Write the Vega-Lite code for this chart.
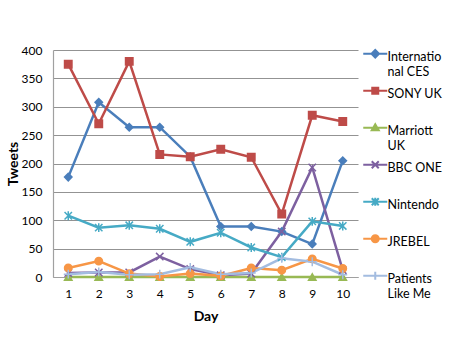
{
  "$schema": "https://vega.github.io/schema/vega-lite/v6.json",
  "width": 305,
  "height": 227,
  "autosize": {"type": "none"},
  "padding": {"left": 53, "top": 50, "right": 99, "bottom": 69},
  "background": "white",
  "config": {
    "view": {"stroke": null},
    "font": "Lato",
    "axis": {"labelFont": "Lato", "titleFont": "Lato", "labelColor": "#000", "titleColor": "#000", "labelFontSize": 12, "titleFontSize": 14, "titleFontWeight": "bold", "ticks": false, "domainColor": "#a0a0a0", "gridColor": "#939393", "domainWidth": 1.2, "gridWidth": 1}
  },
  "data": {
    "values": [
      {"day": 1, "series": "International CES", "tweets": 176},
      {"day": 2, "series": "International CES", "tweets": 308},
      {"day": 3, "series": "International CES", "tweets": 264},
      {"day": 4, "series": "International CES", "tweets": 264},
      {"day": 5, "series": "International CES", "tweets": 212},
      {"day": 6, "series": "International CES", "tweets": 89},
      {"day": 7, "series": "International CES", "tweets": 89},
      {"day": 8, "series": "International CES", "tweets": 80},
      {"day": 9, "series": "International CES", "tweets": 58},
      {"day": 10, "series": "International CES", "tweets": 205},
      {"day": 1, "series": "SONY UK", "tweets": 375},
      {"day": 2, "series": "SONY UK", "tweets": 270},
      {"day": 3, "series": "SONY UK", "tweets": 380},
      {"day": 4, "series": "SONY UK", "tweets": 216},
      {"day": 5, "series": "SONY UK", "tweets": 212},
      {"day": 6, "series": "SONY UK", "tweets": 225},
      {"day": 7, "series": "SONY UK", "tweets": 211},
      {"day": 8, "series": "SONY UK", "tweets": 111},
      {"day": 9, "series": "SONY UK", "tweets": 285},
      {"day": 10, "series": "SONY UK", "tweets": 274},
      {"day": 1, "series": "Marriott UK", "tweets": 0},
      {"day": 2, "series": "Marriott UK", "tweets": 0},
      {"day": 3, "series": "Marriott UK", "tweets": 0},
      {"day": 4, "series": "Marriott UK", "tweets": 0},
      {"day": 5, "series": "Marriott UK", "tweets": 0},
      {"day": 6, "series": "Marriott UK", "tweets": 0},
      {"day": 7, "series": "Marriott UK", "tweets": 0},
      {"day": 8, "series": "Marriott UK", "tweets": 0},
      {"day": 9, "series": "Marriott UK", "tweets": 0},
      {"day": 10, "series": "Marriott UK", "tweets": 0},
      {"day": 1, "series": "BBC ONE", "tweets": 7},
      {"day": 2, "series": "BBC ONE", "tweets": 8},
      {"day": 3, "series": "BBC ONE", "tweets": 8},
      {"day": 4, "series": "BBC ONE", "tweets": 36},
      {"day": 5, "series": "BBC ONE", "tweets": 14},
      {"day": 6, "series": "BBC ONE", "tweets": 3},
      {"day": 7, "series": "BBC ONE", "tweets": 6},
      {"day": 8, "series": "BBC ONE", "tweets": 80},
      {"day": 9, "series": "BBC ONE", "tweets": 193},
      {"day": 10, "series": "BBC ONE", "tweets": 12},
      {"day": 1, "series": "Nintendo", "tweets": 108},
      {"day": 2, "series": "Nintendo", "tweets": 87},
      {"day": 3, "series": "Nintendo", "tweets": 91},
      {"day": 4, "series": "Nintendo", "tweets": 85},
      {"day": 5, "series": "Nintendo", "tweets": 62},
      {"day": 6, "series": "Nintendo", "tweets": 78},
      {"day": 7, "series": "Nintendo", "tweets": 52},
      {"day": 8, "series": "Nintendo", "tweets": 35},
      {"day": 9, "series": "Nintendo", "tweets": 98},
      {"day": 10, "series": "Nintendo", "tweets": 90},
      {"day": 1, "series": "JREBEL", "tweets": 16},
      {"day": 2, "series": "JREBEL", "tweets": 28},
      {"day": 3, "series": "JREBEL", "tweets": 6},
      {"day": 4, "series": "JREBEL", "tweets": 1},
      {"day": 5, "series": "JREBEL", "tweets": 6},
      {"day": 6, "series": "JREBEL", "tweets": 2},
      {"day": 7, "series": "JREBEL", "tweets": 16},
      {"day": 8, "series": "JREBEL", "tweets": 12},
      {"day": 9, "series": "JREBEL", "tweets": 32},
      {"day": 10, "series": "JREBEL", "tweets": 15},
      {"day": 1, "series": "Patients Like Me", "tweets": 5},
      {"day": 2, "series": "Patients Like Me", "tweets": 9},
      {"day": 3, "series": "Patients Like Me", "tweets": 4},
      {"day": 4, "series": "Patients Like Me", "tweets": 5},
      {"day": 5, "series": "Patients Like Me", "tweets": 17},
      {"day": 6, "series": "Patients Like Me", "tweets": 5},
      {"day": 7, "series": "Patients Like Me", "tweets": 7},
      {"day": 8, "series": "Patients Like Me", "tweets": 33},
      {"day": 9, "series": "Patients Like Me", "tweets": 27},
      {"day": 10, "series": "Patients Like Me", "tweets": 4}
    ]
  },
  "encoding": {
    "x": {"field": "day", "type": "ordinal", "scale": {"type": "point", "padding": 0.5}, "axis": {"title": "Day", "labelAngle": 0, "labelPadding": 11, "titlePadding": 10, "grid": false}},
    "y": {"field": "tweets", "type": "quantitative", "scale": {"domain": [0, 400], "nice": false}, "axis": {"title": "Tweets", "values": [0, 50, 100, 150, 200, 250, 300, 350, 400], "labelPadding": 11, "titlePadding": 1, "grid": true}}
  },
  "layer": [
    {
      "mark": {"type": "line", "strokeWidth": 2.5},
      "encoding": {
        "color": {"field": "series", "type": "nominal", "legend": null,
          "scale": {"domain": ["International CES", "SONY UK", "Marriott UK", "BBC ONE", "Nintendo", "JREBEL", "Patients Like Me"],
                    "range": ["#4A7EBB", "#BE4B48", "#98B954", "#7D60A0", "#46AAC5", "#F79646", "#A3BCE0"]}}
      }
    },
    {
      "mark": {"type": "point", "filled": true, "size": 55, "strokeWidth": 1.5, "opacity": 1},
      "encoding": {
        "fill": {"field": "series", "type": "nominal", "legend": null,
          "scale": {"domain": ["International CES", "SONY UK", "Marriott UK", "BBC ONE", "Nintendo", "JREBEL", "Patients Like Me"],
                    "range": ["#4A7EBB", "#BE4B48", "#98B954", "#7D60A0", "#46AAC5", "#F79646", "#A3BCE0"]}},
        "stroke": {"field": "series", "type": "nominal", "legend": null,
          "scale": {"domain": ["International CES", "SONY UK", "Marriott UK", "BBC ONE", "Nintendo", "JREBEL", "Patients Like Me"],
                    "range": ["#4A7EBB", "#BE4B48", "#98B954", "#7D60A0", "#46AAC5", "#F79646", "#A3BCE0"]}},
        "shape": {"field": "series", "type": "nominal", "legend": null,
          "scale": {"domain": ["International CES", "SONY UK", "Marriott UK", "BBC ONE", "Nintendo", "JREBEL", "Patients Like Me"],
                    "range": ["diamond", "square", "triangle-up", "M-1,-1L1,1M1,-1L-1,1", "M-1,-1L1,1M1,-1L-1,1M0,-1.2L0,1.2", "circle", "M-1.2,0L1.2,0M0,-1.2L0,1.2"]}}
      }
    },
    {
      "transform": [{"filter": "datum.tweets < 0"}],
      "mark": {"type": "point", "filled": true, "size": 100, "strokeWidth": 2},
      "encoding": {
        "fill": {"field": "series", "type": "nominal", "legend": null},
        "stroke": {"field": "series", "type": "nominal", "legend": null},
        "shape": {"field": "series", "type": "nominal",
          "scale": {"domain": ["International CES", "SONY UK", "Marriott UK", "BBC ONE", "Nintendo", "JREBEL", "Patients Like Me"],
                    "range": [
                      "M-2.4,-0.5L2.4,-0.5M0,-1.25L0.75,-0.5L0,0.25L-0.75,-0.5Z",
                      "M-2.4,-0.5L2.4,-0.5M-0.6,-1.1L0.6,-1.1L0.6,0.1L-0.6,0.1Z",
                      "M-2.4,-0.5L2.4,-0.5M0,-1.2L0.7,0L-0.7,0Z",
                      "M-2.4,-0.5L2.4,-0.5M-0.7,-1.2L0.7,0.2M0.7,-1.2L-0.7,0.2",
                      "M-2.4,-0.5L2.4,-0.5M-0.7,-1.2L0.7,0.2M0.7,-1.2L-0.7,0.2M0,-1.3L0,0.3",
                      "M-2.4,-0.5L2.4,-0.5M0.7,-0.5A0.7,0.7,0,1,1,-0.7,-0.5A0.7,0.7,0,1,1,0.7,-0.5Z",
                      "M-2.4,-0.5L2.4,-0.5M0,-1.3L0,0.3"
                    ]},
          "legend": {
            "title": null,
            "orient": "right",
            "offset": 11,
            "padding": 0,
            "gridAlign": "all",
            "symbolSize": 100,
            "symbolStrokeWidth": 2,
            "symbolOpacity": 1,
            "symbolFillColor": "#4A7EBB",
            "symbolStrokeColor": "#4A7EBB",
            "labelFont": "Lato",
            "labelFontSize": 12.5,
            "labelColor": "#000",
            "labelLimit": 200,
            "labelOffset": 6,
            "labelLineHeight": 16,
            "labelBaseline": "top",
            "rowPadding": 3,
            "labelExpr": "datum.label == 'International CES' ? ['Internatio', 'nal CES'] : datum.label == 'Marriott UK' ? ['Marriott', 'UK'] : datum.label == 'Patients Like Me' ? ['Patients', 'Like Me'] : datum.label",
            "encode": {
              "symbols": {"update": {"fill": {"scale": "fill", "field": "value"}, "stroke": {"scale": "stroke", "field": "value"}, "strokeWidth": {"value": 2}}},
              "labels": {"update": {"dy": {"value": -5}}}
            }
          }
        }
      }
    }
  ],
  "resolve": {"scale": {"shape": "independent"}}
}
